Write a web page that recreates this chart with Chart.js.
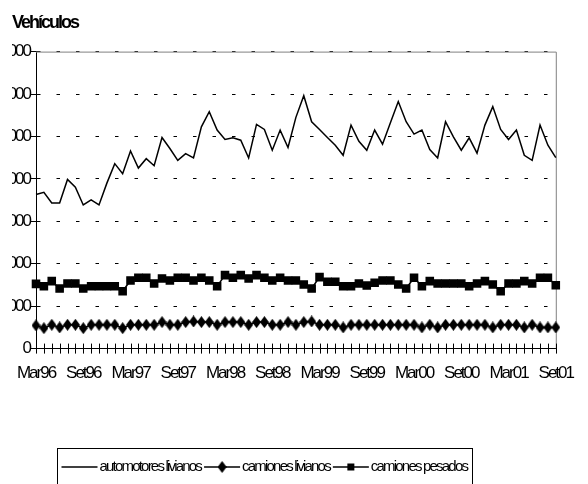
<!DOCTYPE html>
<html>
<head>
<meta charset="utf-8">
<script src="https://cdn.jsdelivr.net/npm/chart.js@4/dist/chart.umd.min.js"></script>
<style>
  html, body { margin: 0; padding: 0; background: #fff; }
  #wrap { width: 588px; height: 484px; position: relative; }
</style>
</head>
<body>
<div id="wrap"><canvas id="chartVehiculos"></canvas></div>
<script>
// meses de la serie (Mar96 a Set01)
const nombresMeses = ['Ene','Feb','Mar','Abr','May','Jun','Jul','Ago','Set','Oct','Nov','Dic'];
const anioInicio = 1996, mesInicio = 2, cantidadMeses = 67;

const autosLivianos = [
  36300,36850,34330,34330,39870,38040,33860,35050,33860,39000,
  43590,41220,46590,42560,44770,43110,49760,47150,44380,45960,
  44930,52280,55840,51500,49290,49680,49120,44930,52840,51650,
  46750,51500,47390,54500,59600,53470,51650,49760,47930,45560,
  52680,48880,46750,51500,48170,53230,58220,53470,50550,51500,
  46910,44930,53470,49910,46750,49680,46080,52680,57030,51650,
  49290,51500,45560,44380,52680,47930,45010
];
const camionesLivianos = [
  5460,4820,5620,5000,5620,5620,4820,5620,5620,5620,
  5620,4820,5620,5620,5620,5620,6240,5620,5620,6240,
  6400,6240,6240,5620,6240,6240,6240,5620,6240,6240,
  5620,5620,6240,5620,6240,6400,5620,5620,5620,5000,
  5620,5620,5620,5620,5620,5620,5620,5620,5620,5000,
  5620,5000,5620,5620,5620,5620,5620,5620,5000,5620,
  5620,5620,5000,5620,5000,5000,5000
];
const camionesPesados = [
  15260,14710,15900,14160,15350,15350,14160,14710,14710,14710,
  14710,13530,16060,16690,16690,15350,16530,16060,16690,16690,
  16060,16690,16060,14710,17320,16690,17320,16530,17320,16690,
  16060,16690,16060,16060,15110,14160,16850,15740,15740,14710,
  14710,15350,14870,15500,16060,16060,15110,14160,16690,14710,
  15900,15350,15350,15350,15350,14710,15350,15900,15110,13530,
  15350,15350,15900,15350,16690,16690,14950
];
const nombresSeries = ['automotores livianos', 'camiones livianos', 'camiones pesados'];

const etiquetas = [];
for (let i = 0; i < cantidadMeses; i++) {
  const m = (mesInicio + i) % 12;
  const a = anioInicio + Math.floor((mesInicio + i) / 12);
  etiquetas.push(nombresMeses[m] + String(a).slice(2));
}

const fuente = "'Liberation Sans', Arial, sans-serif";
Chart.defaults.font.family = fuente;
Chart.defaults.color = '#000';

// marcador rombo (mas alto que ancho)
const rombo = document.createElement('canvas');
rombo.width = 9; rombo.height = 12;
const rc = rombo.getContext('2d');
rc.fillStyle = '#000';
rc.beginPath();
rc.moveTo(4.5, 0); rc.lineTo(9, 6); rc.lineTo(4.5, 12); rc.lineTo(0, 6);
rc.closePath(); rc.fill();

// texto apretado como en el original
const apretarTexto = {
  id: 'apretar',
  beforeLayout(chart) { chart.ctx.letterSpacing = '-2px'; },
  beforeDraw(chart) { chart.ctx.letterSpacing = '-2px'; }
};

// borde gris del area de trazado y marcas cruzadas en el eje x
const marcoPlugin = {
  id: 'marco',
  beforeDatasetsDraw(chart) {
    const { ctx, chartArea: ca } = chart;
    ctx.save();
    ctx.strokeStyle = '#808080';
    ctx.lineWidth = 1;
    ctx.beginPath();
    ctx.moveTo(ca.left, ca.top + 0.5);
    ctx.lineTo(ca.right + 0.5, ca.top + 0.5);
    ctx.lineTo(ca.right + 0.5, ca.bottom);
    ctx.stroke();
    const x = chart.scales.x;
    ctx.strokeStyle = '#000';
    ctx.beginPath();
    for (let i = 0; i < x.ticks.length; i++) {
      const px = Math.round(x.getPixelForTick(i)) + 0.5;
      ctx.moveTo(px, ca.bottom - 5);
      ctx.lineTo(px, ca.bottom + 5);
    }
    ctx.stroke();
    ctx.restore();
  }
};

// leyenda con recuadro
const leyendaPlugin = {
  id: 'leyendaCaja',
  afterDraw(chart) {
    const ctx = chart.ctx;
    const caja = { x: 57.5, y: 448.5, w: 415, h: 40 };
    ctx.save();
    ctx.strokeStyle = '#000';
    ctx.lineWidth = 1;
    ctx.strokeRect(caja.x, caja.y, caja.w, caja.h);
    ctx.font = '15px ' + fuente;
    ctx.letterSpacing = '-1.8px';
    ctx.textBaseline = 'middle';
    ctx.fillStyle = '#000';
    const cy = 467;
    let x = caja.x + 4;
    chart.data.datasets.forEach((ds, i) => {
      ctx.beginPath();
      ctx.lineWidth = 1.5;
      ctx.moveTo(x, cy); ctx.lineTo(x + 36, cy);
      ctx.stroke();
      if (ds.pointStyle === 'rect') {
        ctx.fillRect(x + 18 - 3.5, cy - 3.5, 7, 7);
      } else if (ds.pointStyle instanceof HTMLCanvasElement) {
        ctx.drawImage(ds.pointStyle, x + 18 - 4.5, cy - 6);
      }
      x += 38;
      ctx.fillText(ds.label, x, cy);
      x += ctx.measureText(ds.label).width + 3;
    });
    ctx.restore();
  }
};

new Chart(document.getElementById('chartVehiculos').getContext('2d'), {
  type: 'line',
  data: {
    labels: etiquetas,
    datasets: [
      {
        label: nombresSeries[0],
        data: autosLivianos,
        borderColor: '#000',
        borderWidth: 1.5,
        pointRadius: 0,
        tension: 0,
        clip: false
      },
      {
        label: nombresSeries[1],
        data: camionesLivianos,
        borderColor: '#000',
        backgroundColor: '#000',
        borderWidth: 1.5,
        pointStyle: rombo,
        pointRadius: 5,
        tension: 0,
        clip: false
      },
      {
        label: nombresSeries[2],
        data: camionesPesados,
        borderColor: '#000',
        backgroundColor: '#000',
        borderWidth: 1.5,
        pointStyle: 'rect',
        pointRadius: 5,
        tension: 0,
        clip: false
      }
    ]
  },
  options: {
    responsive: true,
    maintainAspectRatio: false,
    animation: false,
    layout: { padding: { left: 12, right: 22, top: 0, bottom: 85 } },
    plugins: {
      legend: { display: false },
      tooltip: { enabled: false },
      title: {
        display: true,
        text: 'Vehículos',
        align: 'start',
        color: '#000',
        font: { size: 18, weight: 'bold' },
        padding: { top: 12, bottom: 18 }
      }
    },
    scales: {
      x: {
        offset: false,
        border: { color: '#000', width: 1 },
        grid: { display: true, drawOnChartArea: false, drawTicks: false },
        ticks: {
          autoSkip: false,
          maxRotation: 0,
          padding: 15,
          font: { size: 17 },
          callback: (v, i) => (i % 6 === 0 ? etiquetas[i] : '')
        }
      },
      y: {
        min: 0,
        max: 70000,
        border: { color: '#000', width: 1, dash: [3.5, 16] },
        grid: {
          color: '#000',
          lineWidth: 1,
          tickLength: 5,
          tickColor: '#000',
          tickBorderDash: []
        },
        ticks: {
          stepSize: 10000,
          padding: 1,
          font: { size: 17 },
          callback: v => String(v)
        },
        afterFit(scale) { scale.width = 24; }
      }
    }
  },
  plugins: [apretarTexto, marcoPlugin, leyendaPlugin]
});
</script>
</body>
</html>
